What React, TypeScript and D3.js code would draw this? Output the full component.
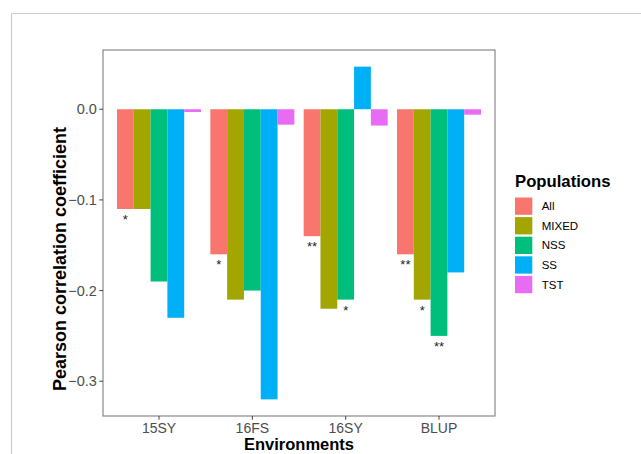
import React from "react";
import * as d3 from "d3";

const environments = ["15SY", "16FS", "16SY", "BLUP"];
const populations = ["All", "MIXED", "NSS", "SS", "TST"];
const colors = ["#F8766D", "#A3A500", "#00BF7D", "#00B0F6", "#E76BF3"];

// values[population][environment]
const allValues = [-0.11, -0.16, -0.14, -0.16];
const mixedValues = [-0.11, -0.21, -0.22, -0.21];
const nssValues = [-0.19, -0.2, -0.21, -0.25];
const ssValues = [-0.23, -0.32, 0.047, -0.18];
const tstValues = [-0.003, -0.017, -0.018, -0.006];

const allSig = ["*", "*", "**", "**"];
const mixedSig = ["", "", "", "*"];
const nssSig = ["", "", "*", "**"];
const ssSig = ["", "", "", ""];
const tstSig = ["", "", "", ""];

const yTicks = [0, -0.1, -0.2, -0.3];

const FONT = "'Liberation Sans', Arial, Helvetica, sans-serif";

export default function App() {
  const W = 641;
  const H = 454;
  const panel = { left: 103, right: 495, top: 50, bottom: 416 };

  const series = [allValues, mixedValues, nssValues, ssValues, tstValues];
  const sigs = [allSig, mixedSig, nssSig, ssSig, tstSig];

  const flat = series.flat().concat([0]);
  const lo = d3.min(flat) as number;
  const hi = d3.max(flat) as number;
  const pad = (hi - lo) * 0.05;

  const y = d3.scaleLinear().domain([lo - pad, hi + pad]).range([panel.bottom, panel.top]);
  const x = d3
    .scaleBand<string>()
    .domain(environments)
    .range([panel.left, panel.right])
    .paddingInner(0.1)
    .paddingOuter(0.15);
  const xInner = d3.scaleBand<string>().domain(populations).range([0, x.bandwidth()]).padding(0);

  const tickLen = 3.7;
  const axisCol = "#444444";
  const textCol = "#4d4d4d";

  return (
    <svg
      width={W}
      height={H}
      style={{ position: "absolute", left: 0, top: 0, background: "#fff" }}
      fontFamily={FONT}
    >
      <rect x={0} y={0} width={W} height={H} fill="#ffffff" />
      {/* outer frame */}
      <line x1={11.5} x2={W} y1={13.5} y2={13.5} stroke="#cccccc" strokeWidth={1.2} />
      <line x1={11.5} x2={11.5} y1={13.5} y2={H} stroke="#cccccc" strokeWidth={1.2} />

      {/* bars */}
      {series.map((vals, pi) =>
        vals.map((v, ei) => {
          const bx = (x(environments[ei]) as number) + (xInner(populations[pi]) as number);
          const y0 = y(0);
          const yv = y(v);
          return (
            <rect
              key={`b-${pi}-${ei}`}
              x={bx}
              y={Math.min(y0, yv)}
              width={xInner.bandwidth()}
              height={Math.abs(yv - y0)}
              fill={colors[pi]}
            />
          );
        })
      )}

      {/* significance marks */}
      {sigs.map((sv, pi) =>
        sv.map((s, ei) => {
          if (!s) return null;
          const cx =
            (x(environments[ei]) as number) + (xInner(populations[pi]) as number) + xInner.bandwidth() / 2;
          const v = series[pi][ei];
          return (
            <text
              key={`s-${pi}-${ei}`}
              x={cx}
              y={y(v) + 15}
              textAnchor="middle"
              fontSize={13}
              fill="#222"
            >
              {s}
            </text>
          );
        })
      )}

      {/* panel border */}
      <rect
        x={panel.left}
        y={panel.top}
        width={panel.right - panel.left}
        height={panel.bottom - panel.top}
        fill="none"
        stroke="#7f7f7f"
        strokeWidth={1.1}
      />

      {/* y axis */}
      {yTicks.map((t) => (
        <g key={`yt-${t}`}>
          <line
            x1={panel.left - tickLen}
            x2={panel.left}
            y1={y(t)}
            y2={y(t)}
            stroke={axisCol}
            strokeWidth={1}
          />
          <text
            x={panel.left - tickLen - 2.5}
            y={y(t)}
            dy="0.36em"
            textAnchor="end"
            fontSize={14.5}
            fill={textCol}
          >
            {d3.format(".1f")(t)}
          </text>
        </g>
      ))}

      {/* x axis */}
      {environments.map((e) => {
        const cx = (x(e) as number) + x.bandwidth() / 2;
        return (
          <g key={`xt-${e}`}>
            <line
              x1={cx}
              x2={cx}
              y1={panel.bottom}
              y2={panel.bottom + tickLen}
              stroke={axisCol}
              strokeWidth={1}
            />
            <text x={cx} y={432.5} textAnchor="middle" fontSize={14} fill={textCol}>
              {e}
            </text>
          </g>
        );
      })}

      {/* axis titles */}
      <text
        x={(panel.left + panel.right) / 2}
        y={450}
        textAnchor="middle"
        fontSize={16.5}
        fontWeight="bold"
        fill="#000"
      >
        Environments
      </text>
      <text
        transform={`translate(66, 259) rotate(-90)`}
        textAnchor="middle"
        fontSize={18}
        fontWeight="bold"
        fill="#000"
      >
        Pearson correlation coefficient
      </text>

      {/* legend */}
      <text x={515} y={187} fontSize={16.7} fontWeight="bold" fill="#000">
        Populations
      </text>
      {populations.map((p, i) => {
        const ky = 197.5 + i * 19.6;
        return (
          <g key={`lg-${p}`}>
            <rect x={515} y={ky} width={17.3} height={17.3} fill={colors[i]} />
            <text x={541.7} y={ky + 8.65} dy="0.36em" fontSize={11.5} fill="#000">
              {p}
            </text>
          </g>
        );
      })}
    </svg>
  );
}
